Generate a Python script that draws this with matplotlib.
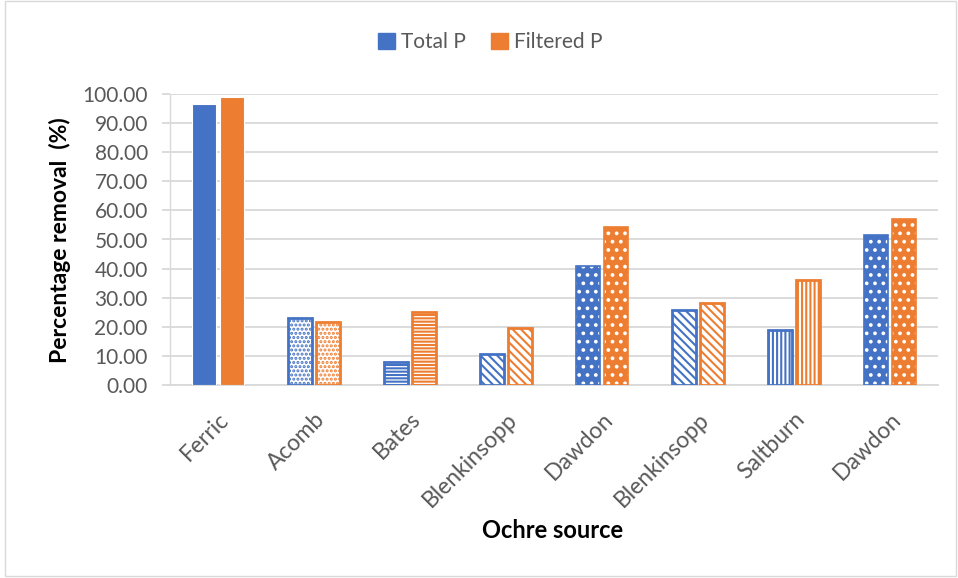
import matplotlib.pyplot as plt
import numpy as np
from matplotlib.patches import Rectangle

plt.rcParams['font.family'] = ['Lato', 'DejaVu Sans']

# datos
fuentes = ["Ferric", "Acomb", "Bates", "Blenkinsopp", "Dawdon", "Blenkinsopp", "Saltburn", "Dawdon"]
total_p = [96.6, 23.0, 8.0, 10.6, 40.9, 25.9, 18.9, 51.4]
filtrado_p = [99.0, 21.6, 25.1, 19.6, 54.3, 28.1, 36.1, 57.1]
patrones = [None, "dots", "-----", "\\\\\\\\", "white_dots", "\\\\\\\\", "||||", "white_dots"]

azul = "#4472C4"
naranja = "#ED7D31"
gris = "#595959"
gris_claro = "#D9D9D9"

fig = plt.figure(figsize=(9.58, 5.78), dpi=100)
ax = fig.add_axes([170 / 958, 1 - 385 / 578, 768 / 958, 291 / 578])

x = np.arange(len(fuentes))
ancho = 0.25
sep = 0.02


def dibujar_barra(pos, valor, color, patron):
    if patron is None:
        ax.bar(pos, valor, ancho, color=color, edgecolor="white", linewidth=0.8, zorder=3)
    elif patron == "white_dots":
        ax.bar(pos, valor, ancho, color=color, edgecolor="white", hatch="..", linewidth=0, zorder=3)
        ax.bar(pos, valor, ancho, fill=False, edgecolor=color, linewidth=1.2, zorder=4)
    elif patron == "dots":
        ax.bar(pos, valor, ancho, color="white", edgecolor=color, hatch="....", linewidth=0, zorder=3)
        ax.bar(pos, valor, ancho, fill=False, edgecolor=color, linewidth=2, zorder=4)
    else:
        ax.bar(pos, valor, ancho, color="white", edgecolor=color, hatch=patron, linewidth=0, zorder=3)
        ax.bar(pos, valor, ancho, fill=False, edgecolor=color, linewidth=2, zorder=4)


plt.rcParams['hatch.linewidth'] = 1.5
for i in range(len(fuentes)):
    dibujar_barra(x[i] - ancho / 2 - sep, total_p[i], azul, patrones[i])
    dibujar_barra(x[i] + ancho / 2 + sep, filtrado_p[i], naranja, patrones[i])

ax.set_xlim(-0.5, len(fuentes) - 0.5)
ax.set_ylim(0, 100)
ax.set_yticks(range(0, 101, 10))
ax.set_yticklabels([f"{v:.2f}" for v in range(0, 101, 10)])
ax.set_xticks(x)
ax.set_xticklabels(fuentes, rotation=45, ha="right", rotation_mode="anchor")
ax.tick_params(axis="y", length=6, width=1.3, color=gris_claro, labelcolor=gris, labelsize=15, pad=10)
ax.tick_params(axis="x", length=0, labelcolor=gris, labelsize=16.5, pad=17)
ax.grid(axis="y", color=gris_claro, linewidth=1.3, zorder=0)
ax.set_axisbelow(True)
for lado in ["top", "right"]:
    ax.spines[lado].set_visible(False)
ax.spines["left"].set_color(gris_claro)
ax.spines["left"].set_linewidth(1)
ax.spines["bottom"].set_color(gris_claro)
ax.spines["bottom"].set_linewidth(1.3)

fig.text(60 / 958, 1 - 240 / 578, "Percentage removal  (%)", fontsize=16.5, fontweight="bold",
         rotation=90, ha="center", va="center")
fig.text(553 / 958, 1 - 530 / 578, "Ochre source", fontsize=17, fontweight="bold",
         ha="center", va="center")

h1 = Rectangle((0, 0), 1, 1, color=azul)
h2 = Rectangle((0, 0), 1, 1, color=naranja)
fig.legend([h1, h2], ["Total P", "Filtered P"], loc="center", bbox_to_anchor=(0.512, 0.927),
           ncol=2, frameon=False, fontsize=15, labelcolor=gris,
           handlelength=0.8, handleheight=0.8, handletextpad=0.3, columnspacing=1.2)

fig.patches.append(Rectangle((0.005, 0.004), 0.993, 0.994, transform=fig.transFigure,
                             fill=False, edgecolor=gris_claro, linewidth=1))

fig.savefig("out.png", dpi=100)
